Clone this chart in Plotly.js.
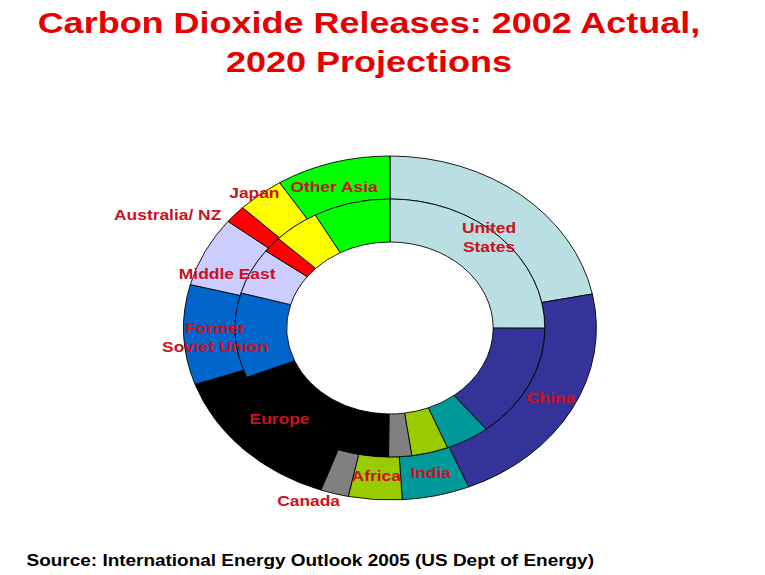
<!DOCTYPE html>
<html>
<head>
<meta charset="utf-8">
<script src="https://cdn.plot.ly/plotly-3.0.1.min.js"></script>
<style>
  html, body { margin: 0; padding: 0; background: #ffffff; overflow: hidden; }
  #chart { width: 638px; height: 575px; transform: scaleX(1.2); transform-origin: 0 0; }
</style>
</head>
<body>
<div id="chart"></div>
<script>
// ---- data (shares of world CO2 releases, %) ----
const regions = ["United States", "China", "India", "Africa", "Canada", "Europe",
                 "Former Soviet Union", "Middle East", "Australia/ NZ", "Japan", "Other Asia"];
const share2002 = [25.0, 14.3, 4.6, 3.8, 2.4, 18.6, 10.6, 5.8, 2.0, 4.8, 8.0];
const share2020 = [21.9, 22.0, 5.3, 4.2, 2.2, 14.3, 9.4, 6.6, 1.7, 3.7, 9.0];
const labelText = ["United<br>States", "China", "India", "Africa", "Canada", "Europe",
                   "Former<br>Soviet Union", "Middle East", "Australia/ NZ", "Japan", "Other Asia"];

// ---- styling ----
const colors = ["#B9DFE3", "#333399", "#009999", "#99CC00", "#808080", "#000000",
                "#0066CC", "#CCCCFF", "#FF0000", "#FFFF00", "#00FF00"];
// label anchor positions in page pixels (layout only)
const labelPos = [[489, 237], [551, 398], [431, 473], [377, 476], [309, 501], [280, 419],
                  [216, 337], [227, 274], [168, 215], [254, 193], [335, 187]];

const W = 638, H = 575, SX = 1.2;
const fx = x => x / SX / W;
const fy = y => 1 - y / H;

const cx = 390 / SX, cy = 328;        // pie centre (unscaled px)
const rOuter = 172, rMid = 129, rHole = 86;

function dom(r) {
  return {
    x: [(cx - r) / W, (cx + r) / W],
    y: [(H - cy - r) / H, (H - cy + r) / H]
  };
}

const lineStyle = { color: "#000000", width: 0.8 };

const outer = {
  type: "pie", labels: regions, values: share2020, sort: false,
  direction: "clockwise", rotation: 0, hole: rMid / rOuter,
  domain: dom(rOuter), textinfo: "none", hoverinfo: "label+percent",
  marker: { colors: colors, line: lineStyle }, showlegend: false
};
const inner = {
  type: "pie", labels: regions, values: share2002, sort: false,
  direction: "clockwise", rotation: 0, hole: rHole / rMid,
  domain: dom(rMid), textinfo: "none", hoverinfo: "label+percent",
  marker: { colors: colors, line: lineStyle }, showlegend: false
};

const labelFont = { family: "Liberation Sans, Arial, sans-serif", size: 14.5, color: "#CC1020", weight: "bold" };

const annotations = labelText.map((t, i) => ({
  text: t, x: fx(labelPos[i][0]), y: fy(labelPos[i][1]),
  xref: "paper", yref: "paper", xanchor: "center", yanchor: "middle",
  showarrow: false, font: labelFont, align: "center"
}));

annotations.push({
  text: "Source: International Energy Outlook 2005 (US Dept of Energy)",
  x: fx(24), y: fy(560), xref: "paper", yref: "paper",
  xanchor: "left", yanchor: "middle", showarrow: false,
  font: { family: "Liberation Sans, Arial, sans-serif", size: 15.8, color: "#000000", weight: "bold" }
});

const layout = {
  width: W, height: H,
  margin: { l: 0, r: 0, t: 0, b: 0 },
  paper_bgcolor: "#ffffff",
  title: {
    text: "Carbon Dioxide Releases: 2002 Actual,<br>2020 Projections",
    x: fx(369), xanchor: "center", y: 1 - 33 / H, yanchor: "top",
    font: { family: "Liberation Sans, Arial, sans-serif", size: 30, color: "#E60000", weight: "bold" }
  },
  annotations: annotations,
  showlegend: false
};

Plotly.newPlot("chart", [outer, inner], layout, { displayModeBar: false, staticPlot: true });
</script>
</body>
</html>
